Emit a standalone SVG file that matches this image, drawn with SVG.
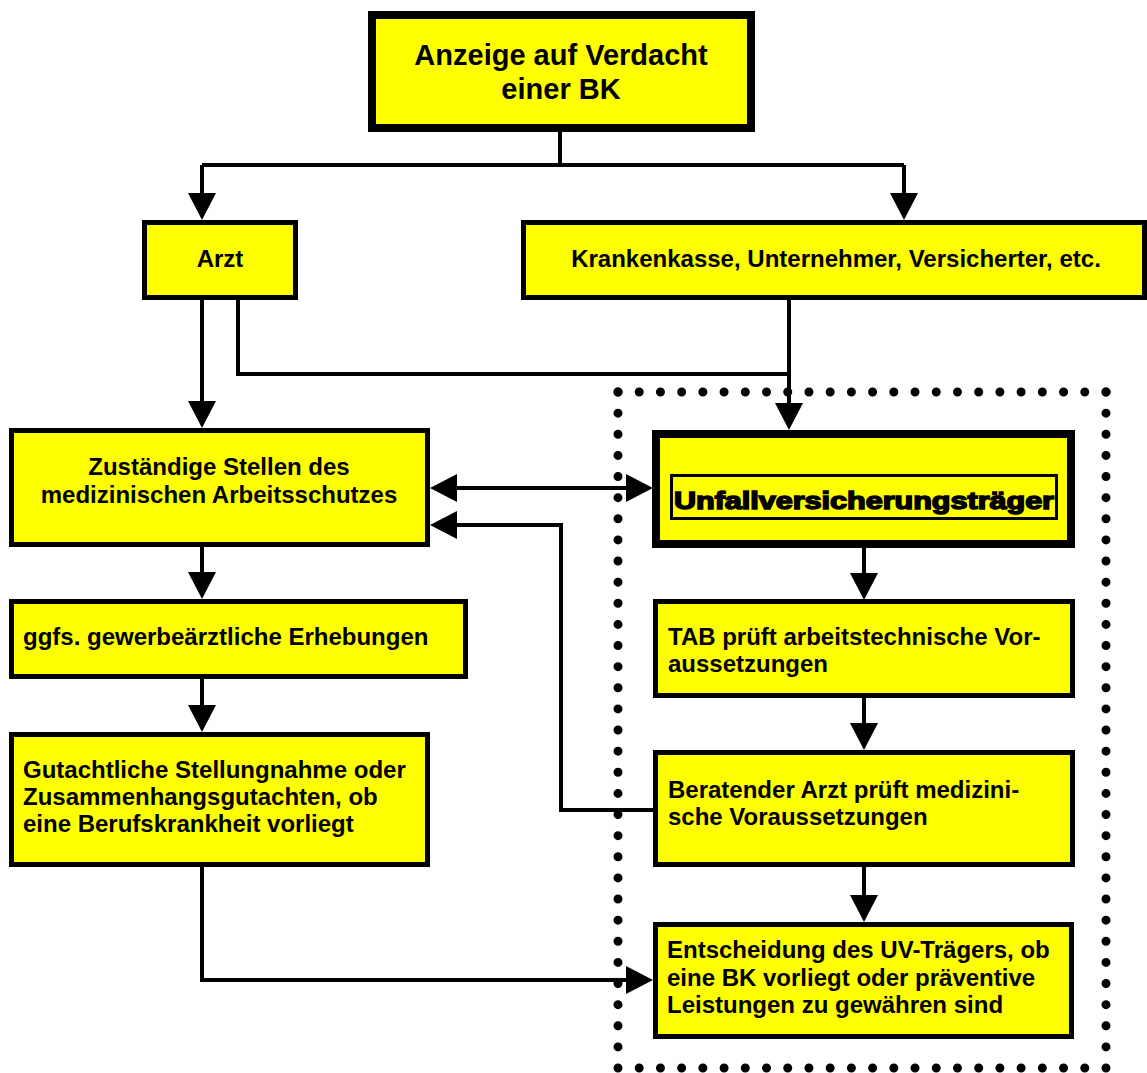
<svg xmlns="http://www.w3.org/2000/svg" width="1147" height="1073" viewBox="0 0 1147 1073">
<style>
.box{fill:#FFFF00;stroke:#000;stroke-width:5}
.thick{stroke-width:8}
.t{font-family:"Liberation Sans",Arial,sans-serif;font-weight:bold;font-size:24px;fill:#000}
.c{text-anchor:middle}
.title{font-size:29px}
.con{fill:none;stroke:#000;stroke-width:4}
.dots{fill:none;stroke:#000;stroke-width:9;stroke-linecap:round}
</style>
<defs>
<marker id="ah" markerUnits="userSpaceOnUse" markerWidth="27" markerHeight="28" refX="17" refY="14" orient="auto-start-reverse">
<path d="M0,0 L27,14 L0,28 Z" fill="#000"/>
</marker>
</defs>
<rect width="1147" height="1073" fill="#fff"/>
<g id="uv-bereich">
<path class="dots" d="M618,392 H1106" stroke-dasharray="0 21.217"/>
<path class="dots" d="M618,1068 H1106" stroke-dasharray="0 21.217"/>
<path class="dots" d="M618,392 V1068" stroke-dasharray="0 21.125"/>
<path class="dots" d="M1106,392 V1068" stroke-dasharray="0 21.125"/>
</g>
<g id="connectors">
<path class="con" d="M560,132 V165"/>
<path class="con" d="M202,165 H904"/>
<path class="con" d="M202,165 V210" marker-end="url(#ah)"/>
<path class="con" d="M904,165 V210" marker-end="url(#ah)"/>
<path class="con" d="M202,300 V418" marker-end="url(#ah)"/>
<path class="con" d="M238,300 V374 H789"/>
<path class="con" d="M789,300 V420" marker-end="url(#ah)"/>
<path class="con" d="M440,488 H643" marker-start="url(#ah)" marker-end="url(#ah)"/>
<path class="con" d="M653,810 H561 V525 H440" marker-end="url(#ah)"/>
<path class="con" d="M202,547 V589" marker-end="url(#ah)"/>
<path class="con" d="M202,679 V722" marker-end="url(#ah)"/>
<path class="con" d="M202,867 V980 H643" marker-end="url(#ah)"/>
<path class="con" d="M864,548 V590" marker-end="url(#ah)"/>
<path class="con" d="M864,698 V740" marker-end="url(#ah)"/>
<path class="con" d="M864,867 V912" marker-end="url(#ah)"/>
</g>
<g id="anzeige">
<rect class="box thick" x="372" y="15" width="379" height="113"/>
<text class="t c title" x="561" y="65">Anzeige auf Verdacht</text>
<text class="t c title" x="561" y="99">einer BK</text>
</g>
<g id="arzt">
<rect class="box" x="144.5" y="222.5" width="151" height="75"/>
<text class="t c" x="220" y="267">Arzt</text>
</g>
<g id="krankenkasse">
<rect class="box" x="523.5" y="222.5" width="621" height="75"/>
<text class="t c" x="836" y="267">Krankenkasse, Unternehmer, Versicherter, etc.</text>
</g>
<g id="zustaendige">
<rect class="box" x="11.5" y="430.5" width="416" height="114"/>
<text class="t c" x="219" y="475">Zuständige Stellen des</text>
<text class="t c" x="219" y="503">medizinischen Arbeitsschutzes</text>
</g>
<g id="uv-traeger">
<rect class="box thick" x="656" y="434" width="415" height="110"/>
<rect x="671.5" y="475.5" width="385" height="43" fill="none" stroke="#000" stroke-width="3"/>
<text class="t c" x="864" y="509" font-size="31" stroke="#000" stroke-width="1.5" textLength="380" lengthAdjust="spacingAndGlyphs">Unfallversicherungsträger</text>
</g>
<g id="ggfs">
<rect class="box" x="11.5" y="601.5" width="454" height="75"/>
<text class="t" x="23" y="645">ggfs. gewerbeärztliche Erhebungen</text>
</g>
<g id="gutachtliche">
<rect class="box" x="11.5" y="734.5" width="416" height="130"/>
<text class="t" x="23" y="778">Gutachtliche Stellungnahme oder</text>
<text class="t" x="23" y="805">Zusammenhangsgutachten, ob</text>
<text class="t" x="23" y="832">eine Berufskrankheit vorliegt</text>
</g>
<g id="tab">
<rect class="box" x="655.5" y="601.5" width="417" height="94"/>
<text class="t" x="668" y="645">TAB prüft arbeitstechnische Vor-</text>
<text class="t" x="668" y="672">aussetzungen</text>
</g>
<g id="beratender">
<rect class="box" x="655.5" y="752.5" width="417" height="112"/>
<text class="t" x="668" y="798">Beratender Arzt prüft medizini-</text>
<text class="t" x="668" y="825">sche Voraussetzungen</text>
</g>
<g id="entscheidung">
<rect class="box" x="655.5" y="924.5" width="416" height="112"/>
<text class="t" x="667" y="958">Entscheidung des UV-Trägers, ob</text>
<text class="t" x="667" y="986">eine BK vorliegt oder präventive</text>
<text class="t" x="667" y="1013">Leistungen zu gewähren sind</text>
</g>
</svg>
